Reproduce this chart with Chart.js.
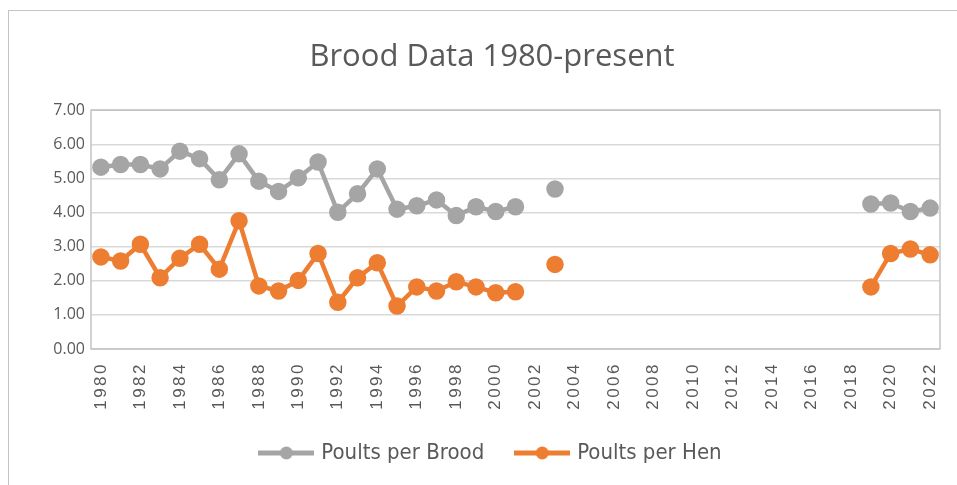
<!DOCTYPE html>
<html>
<head>
<meta charset="utf-8">
<script src="https://cdn.jsdelivr.net/npm/chart.js@4"></script>
<style>
  html, body { margin: 0; padding: 0; background: #fff; overflow: hidden; }
  #marco { position: absolute; left: 8px; top: 10px; width: 1000px; height: 600px;
           border-left: 1px solid #c4c4c4; border-top: 1px solid #c4c4c4; }
  #caja { position: absolute; left: 0; top: 0; width: 984px; height: 485px; }
</style>
</head>
<body>
<div id="marco"></div>
<div id="caja"><canvas id="grafica"></canvas></div>
<script>
const $grafica = document.querySelector("#grafica");

const anios = [];
for (let a = 1980; a <= 2022; a++) anios.push(String(a));

const poultsPorNidada = [5.33, 5.41, 5.41, 5.28, 5.80, 5.58, 4.96, 5.72, 4.92, 4.62, 5.02, 5.48,
    4.01, 4.55, 5.28, 4.10, 4.20, 4.37, 3.91, 4.17, 4.03, 4.17,
    null, 4.69,
    null, null, null, null, null, null, null, null, null, null, null, null, null, null, null,
    4.25, 4.28, 4.03, 4.13];

const poultsPorGallina = [2.70, 2.58, 3.07, 2.09, 2.66, 3.07, 2.34, 3.76, 1.85, 1.70, 2.01, 2.80,
    1.37, 2.09, 2.53, 1.26, 1.82, 1.70, 1.97, 1.82, 1.65, 1.68,
    null, 2.48,
    null, null, null, null, null, null, null, null, null, null, null, null, null, null, null,
    1.82, 2.80, 2.93, 2.76];

const gris = '#a5a5a5';
const naranja = '#ed7d31';

// icono de leyenda: linea con punto, como en Excel
function iconoLeyenda(color) {
    const c = document.createElement('canvas');
    c.width = 56; c.height = 16;
    const ctx = c.getContext('2d');
    ctx.strokeStyle = color;
    ctx.lineWidth = 5;
    ctx.beginPath();
    ctx.moveTo(0, 8); ctx.lineTo(56, 8);
    ctx.stroke();
    ctx.fillStyle = color;
    ctx.beginPath();
    ctx.arc(28, 8, 6.5, 0, Math.PI * 2);
    ctx.fill();
    return c;
}

// borde del area de trazado
const bordeArea = {
    id: 'bordeArea',
    afterDraw(chart) {
        const { ctx, chartArea: a } = chart;
        ctx.save();
        ctx.strokeStyle = '#c4c4c4';
        ctx.lineWidth = 1.5;
        ctx.strokeRect(a.left, a.top, a.right - a.left, a.bottom - a.top);
        ctx.restore();
    }
};

new Chart($grafica, {
    type: 'line',
    data: {
        labels: anios,
        datasets: [
            {
                label: 'Poults per Brood',
                data: poultsPorNidada,
                borderColor: gris,
                backgroundColor: gris,
                borderWidth: 4.5,
                pointRadius: 6.5,
                pointHoverRadius: 6.5,
                pointStyle: 'circle',
                spanGaps: false,
            },
            {
                label: 'Poults per Hen',
                data: poultsPorGallina,
                borderColor: naranja,
                backgroundColor: naranja,
                borderWidth: 4.5,
                pointRadius: 6.5,
                pointHoverRadius: 6.5,
                pointStyle: 'circle',
                spanGaps: false,
            },
        ]
    },
    options: {
        responsive: true,
        maintainAspectRatio: false,
        animation: false,
        layout: { padding: { left: 0, right: 0, top: 2, bottom: 11 } },
        scales: {
            x: {
                offset: true,
                grid: { display: false },
                border: { display: false },
                ticks: {
                    autoSkip: false,
                    maxRotation: 90,
                    minRotation: 90,
                    color: '#595959',
                    font: { family: 'Liberation Sans', size: 17 },
                    padding: 5,
                    callback: function (v, i) { return i % 2 === 0 ? this.getLabelForValue(v) : ''; }
                },
                afterFit(s) {
                    s.height = 59;
                    // etiquetas espaciadas como en Excel, sin recorte
                    if (!s._espaciado) {
                        const original = s.drawLabels.bind(s);
                        s._computeLabelArea = () => undefined;
                        s.drawLabels = function (area) {
                            this.ctx.save();
                            this.ctx.letterSpacing = '2.5px';
                            original(area);
                            this.ctx.restore();
                        };
                        s._espaciado = true;
                    }
                }
            },
            y: {
                min: 0,
                max: 7,
                grid: { color: '#d9d9d9', lineWidth: 1.5, drawTicks: false },
                border: { display: false },
                ticks: {
                    stepSize: 1,
                    color: '#595959',
                    font: { family: 'Open Sans', size: 16 },
                    padding: 6,
                    callback: v => v.toFixed(2)
                },
                afterFit(s) { s.width = 91; }
            },
            // eje vacio a la derecha: solo deja el margen del area de trazado
            margenDerecho: {
                position: 'right',
                grid: { display: false },
                border: { display: false },
                ticks: { display: false },
                afterFit(s) { s.width = 44; }
            }
        },
        plugins: {
            title: {
                display: true,
                text: 'Brood Data 1980-present',
                color: '#595959',
                font: { family: 'Open Sans', size: 31, weight: 'normal' },
                padding: { top: 37, bottom: 34 }
            },
            legend: {
                position: 'bottom',
                labels: {
                    usePointStyle: true,
                    pointStyleWidth: 48,
                    boxHeight: 16,
                    color: '#595959',
                    font: { family: "'DejaVu Sans Condensed', 'Liberation Sans'", size: 22 },
                    padding: 34,
                    generateLabels(chart) {
                        return chart.data.datasets.map((d, i) => ({
                            text: d.label,
                            fillStyle: d.borderColor,
                            strokeStyle: d.borderColor,
                            pointStyle: iconoLeyenda(d.borderColor),
                            fontColor: '#595959',
                            datasetIndex: i,
                            hidden: false
                        }));
                    }
                }
            },
            tooltip: { enabled: false }
        }
    },
    plugins: [bordeArea]
});
</script>
</body>
</html>
